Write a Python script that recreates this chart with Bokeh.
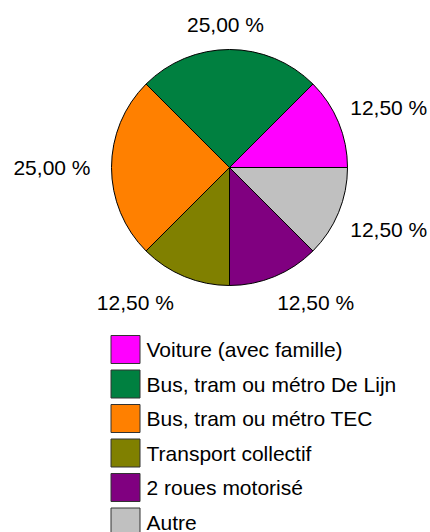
import math
from bokeh.plotting import figure
from bokeh.models import Range1d, ColumnDataSource
from bokeh.core.properties import value
from bokeh.embed import file_html
from bokeh.resources import INLINE

categories = ["Voiture (avec famille)", "Bus, tram ou métro De Lijn", "Bus, tram ou métro TEC",
              "Transport collectif", "2 roues motorisé", "Autre"]
shares = [12.5, 25.0, 25.0, 12.5, 12.5, 12.5]
colors = ["#FF00FF", "#008040", "#FF8000", "#808000", "#800080", "#C0C0C0"]

W, H = 430, 532
FONT = "Liberation Sans"

p = figure(width=W, height=H, output_backend="svg", toolbar_location=None,
           x_range=Range1d(0, W), y_range=Range1d(0, H), min_border=0)
p.axis.visible = False
p.grid.visible = False
p.outline_line_color = None

def Y(py):
    return H - py

cx, cy, r = 229, Y(167), 118
total = sum(shares)
starts, ends = [], []
acc = 0.0
for s in shares:
    starts.append(acc / total * 2 * math.pi)
    acc += s
    ends.append(acc / total * 2 * math.pi)

src = ColumnDataSource(dict(start=starts, end=ends, color=colors))
p.wedge(x=cx, y=cy, radius=r, start_angle="start", end_angle="end", direction="anticlock",
        fill_color="color", line_color="black", line_width=1, source=src)

# percentage labels, placed outside each slice at its mid angle
lx, ly, la, lt = [], [], [], []
R = 135
for s, a0, a1 in zip(shares, starts, ends):
    m = (a0 + a1) / 2
    c, sn = math.cos(m), math.sin(m)
    x = cx - 4 + R * c
    y = cy + R * sn
    if sn > 0.1:
        y += 8
    elif sn < -0.1:
        y -= 10
    lx.append(x)
    ly.append(y)
    la.append("left" if c > 0.1 else ("right" if c < -0.1 else "center"))
    lt.append(f"{s / total * 100:.2f} %".replace(".", ","))
lsrc = ColumnDataSource(dict(x=lx, y=ly, text=lt, align=la))
p.text(x="x", y="y", text="text", text_align="align", text_baseline="middle",
       text_font=value(FONT), text_font_size="21px", text_color="black", source=lsrc)

# legend
box_x, box_top0, step, bw, bh = 125, 335, 34.5, 29, 28
bys = [Y(box_top0 + i * step + bh / 2) for i in range(len(categories))]
p.rect(x=[box_x] * len(categories), y=bys, width=bw, height=bh, fill_color=colors,
       line_color="#333333", line_width=1)
p.text(x=[146] * len(categories), y=bys, text=categories, text_align="left",
       text_baseline="middle", text_font=value(FONT), text_font_size="21px", text_color="black")

open("out.html", "w").write(file_html(p, INLINE))
